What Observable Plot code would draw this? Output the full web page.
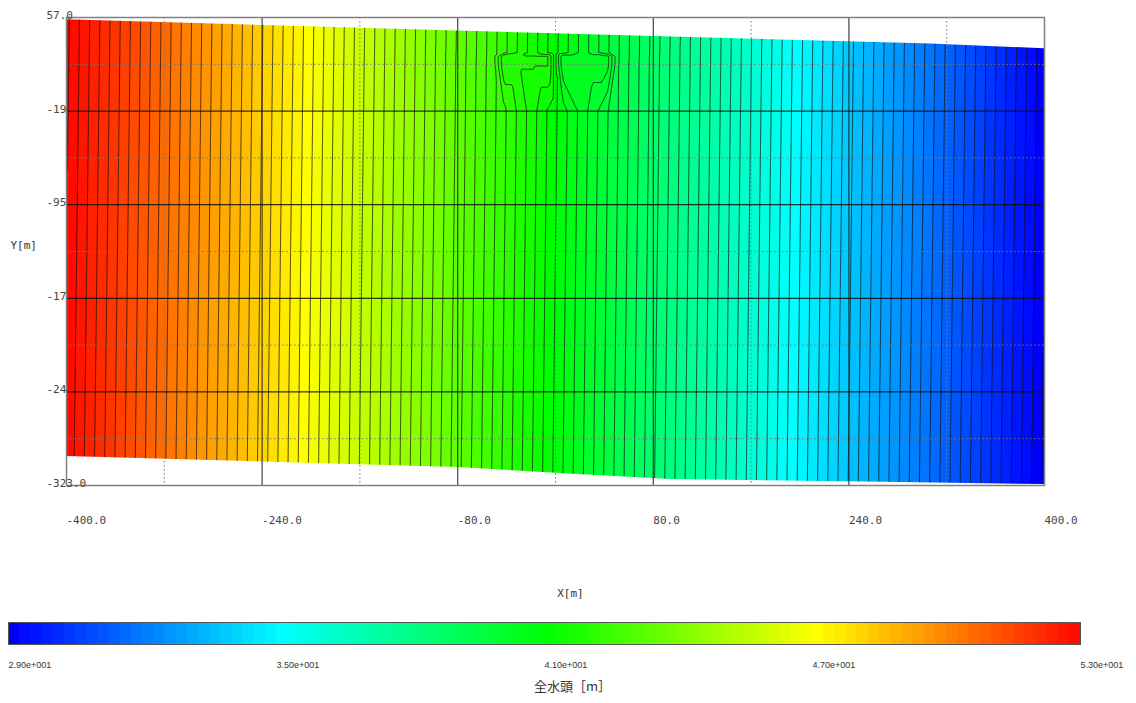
<!DOCTYPE html>
<html>
<head>
<meta charset="utf-8">
<script src="https://cdn.jsdelivr.net/npm/d3@7"></script>
<script src="https://cdn.jsdelivr.net/npm/@observablehq/plot@0.6"></script>
<style>
  body { margin: 0; background: #fff; }
  #chart svg { display: block; }
</style>
</head>
<body>
<div id="chart"></div>
<script>
// ---- Total head field samples [m] ----
// Far field: heads along the top (y = 57) and bottom (y = -323) of the section
const gridX = [-400, -320, -240, -160, -80, 0, 80, 160, 240, 320, 400];
const headTopRow = [53.07, 50.67, 48.27, 45.87, 43.47, 41.07, 38.67, 36.27, 33.87, 31.47, 29.07];
const headBottomRow = [52.93, 50.53, 48.13, 45.73, 43.33, 40.93, 38.53, 36.13, 33.73, 31.33, 28.93];

// Near the two foundation pads (x ≈ -42…-6 and 6…43, y ≈ 19…26)
const nearX = [-70, -50, -42, -30, -18, -6, 0, 6, 18, 30, 43, 51, 70];
const nearRowY = [28, 26, 19, -19];
const headAbovePads = [43.16, 42.56, 42.32, 41.96, 41.60, 41.24, 41.06, 40.88, 40.52, 40.16, 39.77, 39.53, 38.96];
const headPadTop    = [43.16, 42.56, 41.77, 41.77, 41.77, 41.77, 41.06, 40.32, 40.32, 40.32, 40.32, 39.53, 38.96];
const headPadBase   = [43.15, 42.55, 41.77, 41.77, 41.77, 41.77, 41.05, 40.32, 40.32, 40.32, 40.32, 39.52, 38.95];
const headBelowPads = [43.14, 42.54, 42.30, 41.94, 41.58, 41.22, 41.04, 40.86, 40.50, 40.14, 39.75, 39.51, 38.94];

// Ground surface and base of the model
const topEdgeX = [-400, -80, 80, 307, 400];
const topEdgeY = [55.1, 46.0, 41.6, 35.5, 31.6];
const bottomEdgeX = [-400, -225, -80, 4, 94, 282, 400];
const bottomEdgeY = [-299.4, -304.3, -308.4, -313.2, -318.1, -320.6, -322.2];

// Axes
const xTicks = [-400, -240, -80, 80, 240, 400];
const xTickLabels = ["-400.0", "-240.0", "-80.0", "80.0", "240.0", "400.0"];
const xMinor = [-320, -160, 0, 160, 320];
const yTicks = [57, -19, -95, -171, -247, -323];
const yTickLabels = ["57.0", "-19", "-95", "-17", "-24", "-323.0"];
const yMinor = [19, -57, -133, -209, -285];

// Colour bar
const colorTicks = [29, 35, 41, 47, 53];
const colorStops = ["#0000ff", "#00ffff", "#00ff00", "#ffff00", "#ff0000"];
const contourStep = 0.25;

// ---- Build sample table ----
const samples = [];
gridX.forEach((x, i) => {
  samples.push({x, y: 57, h: headTopRow[i]});
  samples.push({x, y: -323, h: headBottomRow[i]});
});
[headAbovePads, headPadTop, headPadBase, headBelowPads].forEach((row, r) => {
  nearX.forEach((x, i) => samples.push({x, y: nearRowY[r], h: row[i]}));
});
const topEdge = topEdgeX.map((x, i) => ({x, y: topEdgeY[i]}));
const bottomEdge = bottomEdgeX.map((x, i) => ({x, y: bottomEdgeY[i]}));

const levels = d3.range(28.5, 53.001, contourStep);
const colorScale = {type: "linear", domain: colorTicks, range: colorStops, interpolate: "rgb", clamp: true};
const mono = "DejaVu Sans Mono";

const main = Plot.plot({
  width: 1136,
  height: 608,
  marginLeft: 66,
  marginRight: 92,
  marginTop: 17,
  marginBottom: 123,
  x: {domain: [-400, 400], axis: null},
  y: {domain: [-323, 57], axis: null},
  color: colorScale,
  style: {background: "white"},
  marks: [
    Plot.contour(samples, {
      x: "x", y: "y", fill: "h",
      x1: -400, x2: 400, y1: -323, y2: 57,
      interpolate: "barycentric",
      thresholds: levels,
      stroke: "#111", strokeWidth: 0.95, strokeOpacity: 0.8
    }),
    // blank out the parts of the frame outside the model section
    Plot.areaY(topEdge, {x: "x", y1: 57, y2: "y", fill: "white"}),
    Plot.areaY(bottomEdge, {x: "x", y1: -323, y2: "y", fill: "white"}),
    // grid
    Plot.ruleX(xMinor, {stroke: "#777", strokeWidth: 1, strokeDasharray: "1.5,2.5"}),
    Plot.ruleY(yMinor, {stroke: "#777", strokeWidth: 1, strokeDasharray: "1.5,2.5"}),
    Plot.ruleX(xTicks.slice(1, -1), {stroke: "#222", strokeWidth: 1.2, strokeOpacity: 0.85}),
    Plot.ruleY(yTicks.slice(1, -1), {stroke: "#111", strokeWidth: 1.3, strokeOpacity: 0.85}),
    Plot.frame({stroke: "#808080", strokeWidth: 1.5}),
    // tick labels
    Plot.text(xTicks, {
      x: d => d, y: -323, text: (d, i) => xTickLabels[i],
      dy: 35, textAnchor: "start", fontFamily: mono, fontSize: 11, fill: "#444"
    }),
    Plot.text(yTicks, {
      x: -400, y: d => d, text: (d, i) => yTickLabels[i],
      dx: -20, dy: -2, textAnchor: "start", fontFamily: mono, fontSize: 11, fill: "#444"
    }),
    // axis titles
    Plot.text(["X[m]"], {frameAnchor: "bottom", dx: 15, dy: 111, fontFamily: mono, fontSize: 11, fill: "#333"}),
    Plot.text(["Y[m]"], {frameAnchor: "left", dx: -56, dy: -6, textAnchor: "start", fontFamily: mono, fontSize: 11, fill: "#333"})
  ]
});

const fmtExp = v => {
  const [m, e] = v.toExponential(2).split("e");
  const sign = e[0] === "-" ? "-" : "+";
  return m + "e" + sign + e.replace(/^[+-]/, "").padStart(3, "0");
};

const bar = Plot.plot({
  width: 1136,
  height: 95,
  marginLeft: 8,
  marginRight: 56,
  marginTop: 14,
  marginBottom: 59,
  x: {domain: [29, 53], axis: null},
  color: colorScale,
  style: {background: "white"},
  marks: [
    Plot.rect(d3.range(29, 53, contourStep), {
      x1: d => d, x2: d => Math.min(53, d + contourStep + 0.03), fill: d => d
    }),
    Plot.frame({stroke: "#555", strokeWidth: 1}),
    Plot.text(colorTicks, {
      x: d => d, text: d => fmtExp(d), frameAnchor: "bottom", dy: 23,
      textAnchor: "start", fontFamily: "Liberation Sans", fontSize: 9, fill: "#333"
    }),
    Plot.text(["全水頭［m］"], {
      frameAnchor: "bottom", dx: 28, dy: 46,
      fontFamily: "Noto Sans CJK JP", fontSize: 13, fill: "#333"
    })
  ]
});

document.getElementById("chart").append(main, bar);
</script>
</body>
</html>
